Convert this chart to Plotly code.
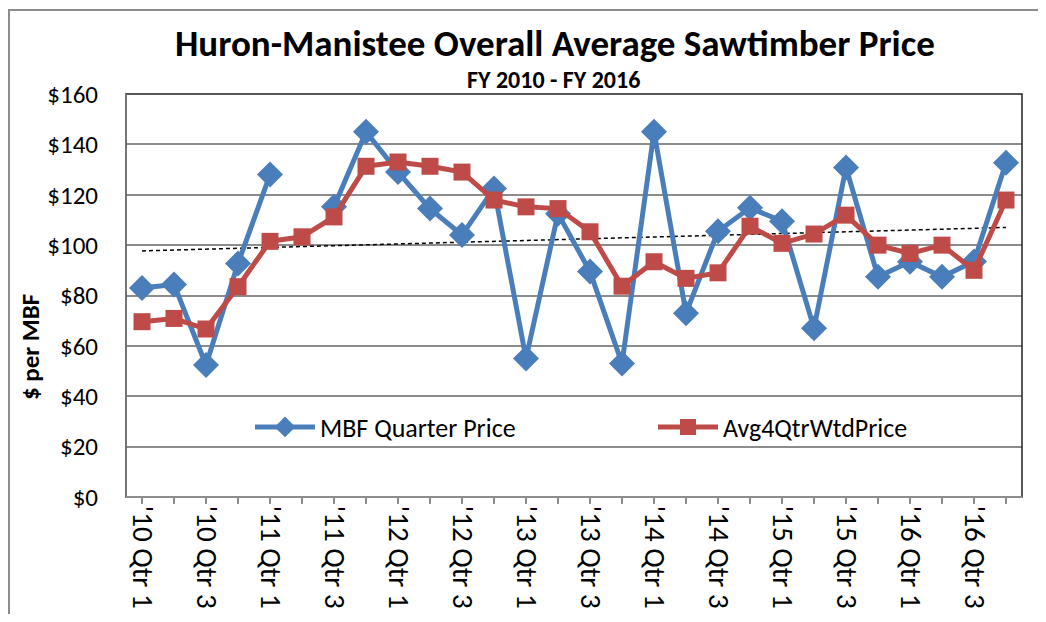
import numpy as np
import plotly.graph_objects as go

# ---- data ----
years = ["10", "11", "12", "13", "14", "15", "16"]
quarters = [f"'{y} Qtr {q}" for y in years for q in (1, 2, 3, 4)]
mbf_price = [83, 84.4, 52.4, 92.7, 128, None, 115.2, 145, 129, 114.5,
             104, 122.5, 55, 112.5, 89.5, 53, 145, 73, 105.5, 114.8,
             109.5, 67, 130.8, 87.4, 93.4, 87.4, 93.5, 132.7]
avg4_price = [69.6, 70.9, 66.7, 83.5, 101.5, 103.3, 111.2, 131.3, 133, 131.3,
              129, 117.9, 115.2, 114.5, 105.3, 83.7, 93.4, 86.8, 89, 107.5,
              100.7, 104.4, 111.9, 100, 96.7, 100, 90, 117.9]
y_ticks = [0, 20, 40, 60, 80, 100, 120, 140, 160]
y_tick_text = [f"${v}" for v in y_ticks]

FONT = "Carlito, Calibri, Lato, sans-serif"
BLUE = "#4A7EBB"
RED = "#BE4B48"

xi = list(range(len(quarters)))

# linear trendline (least squares) of the 4-quarter weighted average
slope, intercept = np.polyfit(np.array(xi, float), np.array(avg4_price, float), 1)
trend = [slope * i + intercept for i in xi]

fig = go.Figure()
fig.add_trace(go.Scatter(
    x=xi, y=trend, mode="lines", showlegend=False, hoverinfo="skip",
    line=dict(color="black", width=1.5, dash="4px,3px")))
fig.add_trace(go.Scatter(
    x=xi, y=mbf_price, mode="lines+markers", name="MBF Quarter Price",
    connectgaps=False, legend="legend",
    line=dict(color=BLUE, width=5),
    marker=dict(symbol="diamond", size=20, color=BLUE)))
fig.add_trace(go.Scatter(
    x=xi, y=avg4_price, mode="lines+markers", name="Avg4QtrWtdPrice",
    legend="legend2",
    line=dict(color=RED, width=5),
    marker=dict(symbol="square", size=17, color=RED)))

# page has an 8px body margin; figure coords = page coords - 8
OFF = 8
W, H = 1046 - 2 * OFF, 622 - 2 * OFF
PL, PR, PT, PB = 126, 1022, 94, 497   # plot area in page pixels
L, R, T, B = PL - OFF, W - (PR - OFF), PT - OFF, H - (PB - OFF)
pw, ph = PR - PL, PB - PT

def px_x(X):
    return (X - PL) / pw

def px_y(Y):
    return (PB - Y) / ph

shapes = [
    # outer chart frame (cropped at right/bottom)
    dict(type="rect", xref="paper", yref="paper",
         x0=px_x(9), x1=px_x(1200), y0=px_y(900), y1=px_y(10),
         line=dict(color="#8c8c8c", width=2), layer="below"),
    # plot area frame
    dict(type="rect", xref="paper", yref="paper", x0=0, x1=1, y0=0, y1=1,
         line=dict(color="#222222", width=1.5), layer="above"),
    dict(type="line", xref="paper", yref="paper", x0=0, x1=0, y0=0, y1=1,
         line=dict(color="#7f7f7f", width=1.5), layer="above"),
    dict(type="line", xref="paper", yref="paper", x0=0, x1=1, y0=0, y1=0,
         line=dict(color="#8c8c8c", width=2), layer="above"),
]

annotations = [
    dict(text="<b>Huron-Manistee Overall Average Sawtimber Price</b>",
         xref="paper", yref="paper", x=px_x(555), y=px_y(43),
         xanchor="center", yanchor="middle", showarrow=False,
         font=dict(size=37, family=FONT, color="black")),
    dict(text="<b>FY 2010 - FY 2016</b>",
         xref="paper", yref="paper", x=px_x(553), y=px_y(79),
         xanchor="center", yanchor="middle", showarrow=False,
         font=dict(size=24, family=FONT, color="black")),
    dict(text="<b>$ per MBF</b>", textangle=-90,
         xref="paper", yref="paper", x=px_x(30), y=px_y(347),
         xanchor="center", yanchor="middle", showarrow=False,
         font=dict(size=25, family=FONT, color="black")),
]

tick_text = [q if i % 2 == 0 else "" for i, q in enumerate(quarters)]

fig.update_layout(
    width=W, height=H,
    margin=dict(l=L, r=R, t=T, b=B, autoexpand=False),
    paper_bgcolor="white", plot_bgcolor="white",
    font=dict(family=FONT, color="black"),
    xaxis=dict(
        range=[-0.5, len(quarters) - 0.5],
        tickmode="array", tickvals=xi, ticktext=tick_text,
        tickangle=90, ticks="outside", ticklen=6, tickcolor="#8c8c8c",
        tickwidth=1.5, showgrid=False, zeroline=False, ticklabelstandoff=-4,
        tickfont=dict(size=29, family=FONT, color="black")),
    yaxis=dict(
        range=[0, 160], tickmode="array", tickvals=y_ticks, ticktext=y_tick_text,
        showgrid=True, gridcolor="#8c8c8c", gridwidth=1.5, zeroline=False,
        ticks="", ticklabelstandoff=27,
        tickfont=dict(size=25, family=FONT, color="black")),
    legend=dict(
        orientation="h", x=px_x(250), xanchor="left",
        y=px_y(427), yanchor="middle",
        bgcolor="rgba(0,0,0,0)", itemwidth=60,
        font=dict(size=26, family=FONT, color="black")),
    legend2=dict(
        orientation="h", x=px_x(653), xanchor="left",
        y=px_y(427), yanchor="middle",
        bgcolor="rgba(0,0,0,0)", itemwidth=60,
        font=dict(size=26, family=FONT, color="black")),
    shapes=shapes,
    annotations=annotations,
)

fig.write_html("out.html")
